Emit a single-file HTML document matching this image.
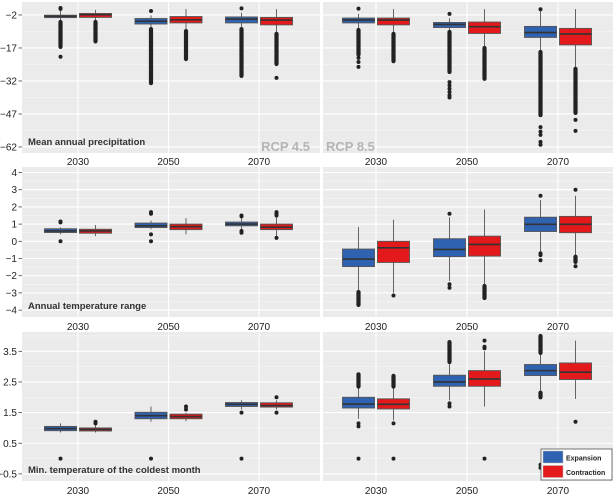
<!DOCTYPE html>
<html><head><meta charset="utf-8">
<style>
html,body{margin:0;padding:0;background:#fff;}
svg{display:block;font-family:"Liberation Sans",sans-serif;}
</style></head>
<body>
<svg id="chart" width="616" height="496" viewBox="0 0 616 496" xmlns="http://www.w3.org/2000/svg"></svg>
<script>
const categories = ['2030','2050','2070'];
const groups = ['Expansion','Contraction'];
const groupColors = ['#2f62b0','#e3191c'];
// box stats per panel: [q1, median, q3, whiskerLow, whiskerHigh], order E2030,C2030,E2050,C2050,E2070,C2070
const precip45Boxes = [[-3.2,-2.6,-2.1,-5.2,0.3],[-3.1,-1.9,-1.3,-5.2,0.3],[-6.1,-4.8,-3.6,-8.4,-2.2],[-5.6,-4.2,-2.7,-9.3,0.7],[-5.6,-3.9,-2.9,-8.4,-1.0],[-6.5,-4.3,-3.1,-10.6,0.7]];
const precip85Boxes = [[-5.6,-4.3,-3.4,-8.8,-1.5],[-6.5,-4.3,-3.4,-10.6,0.7],[-7.7,-6.3,-5.4,-9.7,-3.5],[-10.4,-7.3,-5.2,-17,0.7],[-12.2,-10,-7.2,-18.8,0.3],[-15.6,-10.6,-8.1,-26.5,0.7]];
const range45Boxes = [[0.51,0.6,0.73,0.4,0.8],[0.47,0.6,0.7,0.3,0.95],[0.8,0.9,1.06,0.7,1.2],[0.68,0.85,1.0,0.4,1.35],[0.9,1.0,1.12,0.7,1.35],[0.68,0.82,1.0,0.3,1.4]];
const range85Boxes = [[-1.47,-1.03,-0.45,-2.9,0.83],[-1.23,-0.38,0.0,-3.0,1.25],[-0.89,-0.47,0.15,-2.3,1.4],[-0.86,-0.18,0.3,-2.55,1.85],[0.57,0.99,1.4,-0.6,2.4],[0.5,0.99,1.45,-0.8,2.65]];
const tmin45Boxes = [[0.91,0.98,1.05,0.85,1.15],[0.9,0.95,1.0,0.85,1.1],[1.3,1.4,1.51,1.2,1.7],[1.3,1.37,1.45,1.22,1.5],[1.7,1.77,1.83,1.6,1.9],[1.68,1.73,1.82,1.6,1.9]];
const tmin85Boxes = [[1.65,1.78,2.0,1.3,2.3],[1.62,1.77,1.95,1.25,2.3],[2.36,2.5,2.72,1.9,3.1],[2.36,2.6,2.87,1.7,3.5],[2.71,2.87,3.07,2.2,3.4],[2.58,2.82,3.12,1.95,3.85]];
// individual outliers: [boxIndex, value]
const precip45Out = [[0,0.8],[0,1.2],[0,-21],[2,-0.2],[4,1.0],[5,-30.6]];
const precip85Out = [[0,0.9],[0,-21.5],[0,-23.4],[0,-25.6],[2,-1.5],[2,-32.5],[2,-34],[2,-35.5],[2,-37],[2,-38.5],[2,-39.5],[4,0.6],[4,-53],[4,-55],[4,-56.5],[4,-59.7],[4,-61],[5,-49.7],[5,-54.7]];
const range45Out = [[0,1.15],[0,1.1],[0,0.0],[2,1.6],[2,1.7],[2,0.4],[2,0.0],[4,1.45],[4,1.5],[4,0.5],[4,0.6],[5,1.5],[5,1.6],[5,1.7],[5,0.2]];
const range85Out = [[1,-3.15],[2,1.6],[2,-2.5],[2,-2.7],[4,2.65],[4,-0.7],[4,-0.8],[4,-1.1],[5,3.0],[5,-1.45]];
const tmin45Out = [[0,0.0],[1,1.2],[1,1.15],[2,0.0],[3,1.6],[3,1.7],[4,1.5],[4,0.0],[5,2.0],[5,1.5]];
const tmin85Out = [[0,1.05],[0,1.15],[0,0.0],[1,1.15],[1,0.0],[2,1.7],[2,1.8],[3,3.6],[3,3.65],[3,3.85],[3,0.0],[4,-0.2],[4,-0.3],[5,1.2]];
// dense outlier streams: [boxIndex, low, high]
const precip45Streams = [[0,-16.5,-5.2],[1,-14,-5.2],[2,-33,-8.4],[3,-22,-9.3],[4,-29.7,-8.4],[5,-24.3,-10.6]];
const precip85Streams = [[0,-20,-8.8],[1,-23,-10.6],[2,-27.9,-9.7],[3,-31,-17],[4,-47.5,-18.8],[5,-46.5,-26.5]];
const range85Streams = [[0,-3.7,-2.95],[3,-3.3,-2.6],[5,-1.2,-0.9]];
const tmin85Streams = [[0,2.35,2.75],[1,2.35,2.7],[2,3.15,3.8],[4,3.45,4.0],[4,2.0,2.15]];
const precipTicks = [-2,-17,-32,-47,-62];
const rangeTicks = [-4,-3,-2,-1,0,1,2,3,4];
const tminTicks = [3.5,2.5,1.5,0.5,-0.5];

const NS='http://www.w3.org/2000/svg';
const svg=document.getElementById('chart');
function mk(tag,attrs,parent){const e=document.createElementNS(NS,tag);for(const k in attrs)e.setAttribute(k,attrs[k]);(parent||svg).appendChild(e);return e;}

const cols=[{x0:22,x1:320,c0:78,step:90.5},{x0:323,x1:613,c0:376,step:91}];
const rows=[
 {y0:2,y1:153,vTop:3.9,pxPer:2.2,ticks:precipTicks,minor:7.5,title:'Mean annual precipitation',labelY:161,fmt:v=>v<0?'\u2212'+(-v):''+v},
 {y0:167,y1:317,vTop:4.32,pxPer:17.2,ticks:rangeTicks,minor:0.5,title:'Annual temperature range',labelY:326,fmt:v=>v<0?'\u2212'+(-v):''+v},
 {y0:332,y1:481,vTop:4.13,pxPer:30.65,ticks:tminTicks,minor:0.5,title:'Min. temperature of the coldest month',labelY:490,fmt:v=>v<0?'\u2212'+(-v).toFixed(1):v.toFixed(1)}
];
const panels=[
 [precip45Boxes,precip45Out,precip45Streams],[precip85Boxes,precip85Out,precip85Streams],
 [range45Boxes,range45Out,[]],[range85Boxes,range85Out,range85Streams],
 [tmin45Boxes,tmin45Out,[]],[tmin85Boxes,tmin85Out,tmin85Streams]
];
const rowNames=['precipitation','temp-range','min-temp'];
const colNames=['rcp45','rcp85'];

rows.forEach((r,ri)=>{
 const yS=v=>r.y0+(r.vTop-v)*r.pxPer;
 const vBot=r.vTop-(r.y1-r.y0)/r.pxPer;
 cols.forEach((c,ci)=>{
  const g=mk('g',{});
  
  
  const bg=mk('rect',{x:c.x0,y:r.y0,width:c.x1-c.x0,height:r.y1-r.y0,fill:'#ebebeb'},g);
  
  
  // minor grid
  const t0=r.ticks[0];
  for(let v=t0-Math.ceil((t0-vBot)/r.minor)*r.minor; v<=r.vTop+1e-9; v+=r.minor){
   const y=yS(v); if(y<r.y0||y>r.y1)continue;
   const ln=mk('line',{x1:c.x0,x2:c.x1,y1:y,y2:y,stroke:'#f7f7f7','stroke-width':0.6},g);
   
   
  }
  r.ticks.forEach(v=>{
   const y=yS(v);
   const ln=mk('line',{x1:c.x0,x2:c.x1,y1:y,y2:y,stroke:'#fff','stroke-width':1.1},g);
   
   
  });
  categories.forEach((cat,k)=>{
   const x=c.c0+k*c.step;
   const ln=mk('line',{x1:x,x2:x,y1:r.y0,y2:r.y1,stroke:'#fff','stroke-width':1.1},g);
   
   
   const t=mk('text',{x:x,y:r.labelY+4,'text-anchor':'middle','font-size':10,fill:'#222'},g);
   t.textContent=cat;
   
   
  });
  if(ci===0){
   r.ticks.forEach(v=>{
    const y=yS(v);
    const t=mk('text',{x:17,y:y+3.5,'text-anchor':'end','font-size':10,fill:'#222'});
    t.textContent=r.fmt(v);
    
    
    const tk=mk('line',{x1:18.5,x2:22,y1:y,y2:y,stroke:'#444','stroke-width':0.8});
    
    
   });
  }
  const [boxes,outs,streams]=panels[ri*2+ci];
  const bx=i=>c.c0+Math.floor(i/2)*c.step+(i%2===0?-17.5:17.5);
  boxes.forEach((b,i)=>{
   const x=bx(i);
   const wl=mk('line',{x1:x,x2:x,y1:yS(b[4]),y2:yS(b[3]),stroke:'#555','stroke-width':0.9},g);
   
   
   const rc=mk('rect',{x:x-16,y:yS(b[2]),width:32,height:Math.max(1,yS(b[0])-yS(b[2])),fill:groupColors[i%2],stroke:'#555','stroke-width':0.9},g);
   
   
   const md=mk('line',{x1:x-16,x2:x+16,y1:yS(b[1]),y2:yS(b[1]),stroke:'#333','stroke-width':1.6},g);
   
   
  });
  streams.forEach(s=>{
   const x=bx(s[0]);
   const ln=mk('line',{x1:x,x2:x,y1:yS(s[2]),y2:yS(s[1]),stroke:'#222','stroke-width':4.2,'stroke-linecap':'round'},g);
   
   
  });
  outs.forEach(o=>{
   const cc=mk('circle',{cx:bx(o[0]),cy:yS(o[1]),r:2,fill:'#222'},g);
   
   
  });
  if(ci===0){
   const t=mk('text',{x:28,y:r.y1-8,'font-size':9.5,'font-weight':'bold',fill:'#333'},g);
   t.textContent=r.title;
   
   
  }
 });
});
const l45=mk('text',{x:310,y:151,'text-anchor':'end','font-size':13,'font-weight':'bold',fill:'#b5b5b5'});
l45.textContent='RCP 4.5';


const l85=mk('text',{x:326,y:151,'font-size':13,'font-weight':'bold',fill:'#b5b5b5'});
l85.textContent='RCP 8.5';


// legend
const lg=mk('g',{});


const lb=mk('rect',{x:541,y:449,width:71,height:31,fill:'#fff',stroke:'#555','stroke-width':0.8},lg);


groups.forEach((gname,i)=>{
 const k=mk('rect',{x:543,y:451+i*14.5,width:20,height:12,fill:groupColors[i],stroke:'#bbb','stroke-width':0.5},lg);
 
 
 const t=mk('text',{x:566,y:460.5+i*14.5,'font-size':7,'font-weight':'bold',fill:'#222'},lg);
 t.textContent=gname;
 
 
});
</script>
</body></html>
